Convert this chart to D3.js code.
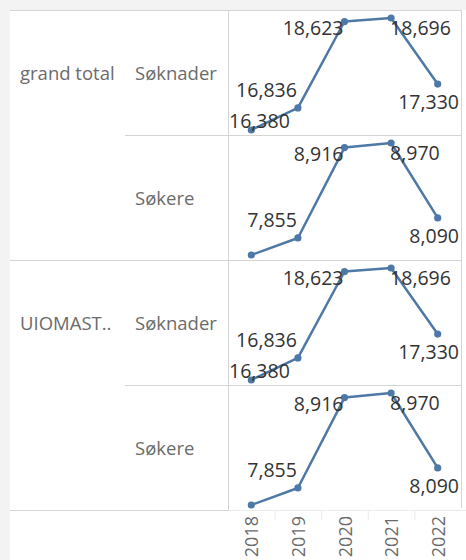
<!DOCTYPE html>
<html>
<head>
<meta charset="utf-8">
<script src="https://cdn.jsdelivr.net/npm/d3@7"></script>
<style>
  html, body { margin: 0; padding: 0; background: #ffffff; }
  svg { display: block; }
</style>
</head>
<body>
<svg id="chart" width="466" height="560"></svg>
<script>
// ---- data ----
const years = ["2018", "2019", "2020", "2021", "2022"];
const groups = ["grand total", "UIOMAST.."];
const measures = ["Søknader", "Søkere"];
const soknader = [16380, 16836, 18623, 18696, 17330];
const sokere = [7655, 7855, 8916, 8970, 8090];
const soknaderShowLabel = [true, true, true, true, true];
const sokereShowLabel = [false, true, true, true, true];

const seriesByMeasure = { "Søknader": soknader, "Søkere": sokere };
const showByMeasure = { "Søknader": soknaderShowLabel, "Søkere": sokereShowLabel };

// ---- layout ----
const W = 466, H = 560;
const top0 = 10, left0 = 10;
const rowH = 125;
const paneL = 228, paneR = 461;
const subHeaderX = 125;
const bottom = top0 + rowH * 4;
const lineColor = "#4e79a7";
const gridColor = "#d4d4d4";
const fontFam = "'Open Sans', 'Noto Sans', sans-serif";

const svg = d3.select("#chart");

// backgrounds
svg.append("rect").attr("x", 0).attr("y", 0).attr("width", W).attr("height", H).attr("fill", "#f3f3f3");
svg.append("rect").attr("x", left0).attr("y", top0).attr("width", W - left0).attr("height", H - top0).attr("fill", "#ffffff");

const x = d3.scaleBand().domain(years).range([paneL, paneR]).padding(0);
const cx = d => x(d) + x.bandwidth() / 2;

const fmt = d3.format(",");

// label placement rules per year index (Tableau-like positions)
function placeLabel(i, px, py, w) {
  // returns {x, y, anchor}
  switch (i) {
    case 0: {
      let xx = px;
      if (xx - w / 2 < paneL + 1) xx = paneL + 1 + w / 2;
      return { x: xx, y: py - 2, anchor: "middle" };
    }
    case 1: return { x: px - 1, y: py - 10.5, anchor: "end" };
    case 2: return { x: px - 1, y: py + 13, anchor: "end" };
    case 3: return { x: px - 1, y: py + 17, anchor: "start" };
    default: {
      let xx = px;
      if (xx + w / 2 > paneR - 2) xx = paneR - 2 - w / 2;
      return { x: xx, y: py + 25, anchor: "middle" };
    }
  }
}

let rowIndex = 0;
groups.forEach((g, gi) => {
  const gTop = top0 + gi * rowH * 2;
  svg.append("text")
    .attr("x", 20).attr("y", gTop + rowH / 2)
    .attr("dominant-baseline", "central")
    .attr("font-family", fontFam).attr("font-size", 18.5)
    .attr("fill", "#6b6b6b")
    .text(g);

  measures.forEach((m, mi) => {
    const pTop = top0 + rowIndex * rowH;
    const pBot = pTop + rowH;
    const vals = seriesByMeasure[m];
    const show = showByMeasure[m];
    const y = d3.scaleLinear()
      .domain([d3.min(vals), d3.max(vals)])
      .range([pBot - 5, pTop + 8]);

    svg.append("text")
      .attr("x", 135).attr("y", pTop + rowH / 2)
      .attr("dominant-baseline", "central")
      .attr("font-family", fontFam).attr("font-size", 18.5)
      .attr("fill", "#6b6b6b")
      .text(m);

    const pts = years.map((yr, i) => ({ yr, v: vals[i], i }));
    const line = d3.line().x(d => cx(d.yr)).y(d => y(d.v));
    const pane = svg.append("g");
    pane.append("path").datum(pts)
      .attr("d", line).attr("fill", "none")
      .attr("stroke", lineColor).attr("stroke-width", 2.5)
      .attr("stroke-linejoin", "round");
    pane.selectAll("circle").data(pts).join("circle")
      .attr("cx", d => cx(d.yr)).attr("cy", d => y(d.v)).attr("r", 3.6)
      .attr("fill", lineColor);

    pts.forEach(d => {
      if (!show[d.i]) return;
      const t = pane.append("text")
        .attr("font-family", fontFam).attr("font-size", 19.5)
        .attr("fill", "#333333")
        .text(fmt(d.v));
      const w = t.node().getComputedTextLength();
      const p = placeLabel(d.i, cx(d.yr), y(d.v), w);
      t.attr("x", p.x).attr("y", p.y).attr("text-anchor", p.anchor);
    });
    rowIndex++;
  });
});

// grid / border lines
const lines = [];
lines.push([left0, top0 + 0.5, paneR, top0 + 0.5, gridColor]);
lines.push([subHeaderX, top0 + rowH + 0.5, paneR, top0 + rowH + 0.5, gridColor]);
lines.push([left0, top0 + rowH * 2 + 0.5, paneR, top0 + rowH * 2 + 0.5, gridColor]);
lines.push([subHeaderX, top0 + rowH * 3 + 0.5, paneR, top0 + rowH * 3 + 0.5, gridColor]);
lines.push([left0, bottom + 0.5, paneL, bottom + 0.5, gridColor]);
lines.push([paneL, bottom + 0.5, W, bottom + 0.5, "#ebebeb"]);
lines.push([paneL + 0.5, top0, paneL + 0.5, bottom, gridColor]);
lines.push([paneR + 0.5, top0, paneR + 0.5, bottom - 2, gridColor]);
svg.selectAll("line.grid").data(lines).join("line")
  .attr("class", "grid")
  .attr("x1", d => d[0]).attr("y1", d => d[1])
  .attr("x2", d => d[2]).attr("y2", d => d[3])
  .attr("stroke", d => d[4]).attr("stroke-width", 1);

// faint tick separators below axis
svg.selectAll("line.sep").data(years.slice(1)).join("line")
  .attr("class", "sep")
  .attr("x1", d => x(d) + 0.5).attr("x2", d => x(d) + 0.5)
  .attr("y1", bottom).attr("y2", bottom + 10)
  .attr("stroke", "#ececec");

// x axis labels (rotated)
svg.selectAll("text.xl").data(years).join("text")
  .attr("class", "xl")
  .attr("transform", d => `translate(${cx(d)},${bottom + 6}) rotate(-90)`)
  .attr("text-anchor", "end")
  .attr("dominant-baseline", "central")
  .attr("font-family", fontFam).attr("font-size", 18)
  .attr("fill", "#6b6b6b")
  .text(d => d);
</script>
</body>
</html>
